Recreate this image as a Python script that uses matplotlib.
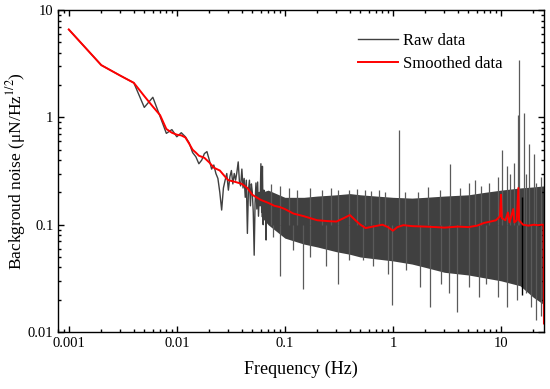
import matplotlib
matplotlib.use('Agg')
import matplotlib.pyplot as plt
from matplotlib.ticker import FixedLocator, FixedFormatter, LogLocator, NullFormatter

plt.rcParams['font.family'] = ['Liberation Serif', 'DejaVu Serif']
plt.rcParams['mathtext.fontset'] = 'stix'

# raw spectrum, low-frequency part (read point by point)
raw_f = [0.001, 0.002, 0.003, 0.004, 0.005, 0.006, 0.007, 0.008, 0.009, 0.010,
         0.011, 0.012, 0.013, 0.014, 0.015, 0.016, 0.017, 0.018, 0.019, 0.020,
         0.021, 0.022, 0.023, 0.024, 0.025, 0.026, 0.027, 0.028, 0.029, 0.030,
         0.031, 0.032, 0.033, 0.034, 0.035, 0.036, 0.037, 0.038, 0.039, 0.040,
         0.041, 0.042, 0.043, 0.044, 0.045, 0.046, 0.047, 0.048, 0.049, 0.050,
         0.051, 0.052, 0.053, 0.054, 0.055, 0.056, 0.057, 0.058, 0.059, 0.060,
         0.061, 0.062, 0.063, 0.064, 0.065, 0.066, 0.067, 0.068, 0.069, 0.070]
raw_v = [6.6, 3.07, 2.45, 2.1, 1.24, 1.54, 1.02, 0.71, 0.77, 0.66,
         0.72, 0.66, 0.58, 0.47, 0.43, 0.37, 0.40, 0.46, 0.48, 0.40,
         0.33, 0.36, 0.30, 0.27, 0.20, 0.137, 0.22, 0.26, 0.30, 0.21,
         0.28, 0.32, 0.24, 0.30, 0.26, 0.31, 0.385, 0.25, 0.23, 0.33,
         0.22, 0.27, 0.18, 0.26, 0.083, 0.21, 0.26, 0.15, 0.24, 0.20,
         0.13, 0.052, 0.16, 0.245, 0.14, 0.25, 0.12, 0.20, 0.15, 0.37,
         0.13, 0.35, 0.10, 0.21, 0.12, 0.17, 0.072, 0.19, 0.11, 0.20]

# dense part of the raw spectrum: envelope of the band
band_f = [0.06, 0.07, 0.1, 0.15, 0.2, 0.3, 0.4, 0.5, 0.7, 1, 1.5, 2, 3, 5, 7,
          10, 15, 20, 25]
band_top = [0.20, 0.21, 0.18, 0.18, 0.185, 0.19, 0.195, 0.19, 0.185, 0.18,
            0.177, 0.18, 0.185, 0.19, 0.20, 0.21, 0.22, 0.225, 0.23]
band_bottom = [0.12, 0.10, 0.075, 0.066, 0.062, 0.056, 0.053, 0.05, 0.048,
               0.046, 0.043, 0.04, 0.036, 0.034, 0.032, 0.03, 0.027, 0.021, 0.018]

# single lines sticking out of the band
spike_up_f = [0.075, 0.09, 0.11, 0.13, 0.17, 0.22, 0.27, 0.31, 0.39, 0.47, 0.55,
              0.63, 0.75, 0.85, 1.15, 1.3, 1.7, 2.1, 2.7, 3.4, 4.2, 5.1, 5.7,
              6.5, 7.8, 9.3, 10.2, 11.4, 12.2, 13.3, 14.3, 14.6, 16.3, 17.2,
              18.3, 20.3, 21.0, 23.5]
spike_up_v = [0.24, 0.23, 0.22, 0.21, 0.22, 0.21, 0.22, 0.21, 0.21, 0.215, 0.21,
              0.205, 0.21, 0.20, 0.76, 0.20, 0.20, 0.225, 0.21, 0.37, 0.22, 0.245,
              0.26, 0.23, 0.245, 0.28, 0.50, 0.35, 0.30, 0.38, 1.05, 3.42, 1.09,
              0.30, 0.57, 0.46, 0.245, 0.28]
spike_dn_f = [0.077, 0.09, 0.118, 0.147, 0.17, 0.24, 0.31, 0.39, 0.53, 0.65,
              0.90, 0.98, 1.33, 1.8, 2.2, 2.8, 3.3, 3.9, 5.1, 6.3, 7.2, 9.3,
              11.4, 14.0, 17.0, 19.1, 21.0, 23.5]
spike_dn_v = [0.077, 0.033, 0.058, 0.025, 0.05, 0.041, 0.028, 0.047, 0.047,
              0.041, 0.035, 0.018, 0.038, 0.026, 0.017, 0.028, 0.023, 0.0155,
              0.026, 0.021, 0.028, 0.021, 0.017, 0.02, 0.023, 0.017, 0.013, 0.014]
dark_f = [15.7]
dark_lo = [0.022]
dark_hi = [0.18]

# smoothed spectrum
smooth_f = [0.001, 0.002, 0.003, 0.004, 0.005, 0.006, 0.007, 0.008, 0.009, 0.01,
            0.011, 0.012, 0.013, 0.014, 0.015, 0.016, 0.018, 0.02, 0.022, 0.025,
            0.028, 0.03, 0.035, 0.04, 0.045, 0.05, 0.06, 0.07, 0.08, 0.09, 0.1,
            0.12, 0.15, 0.2, 0.25, 0.3, 0.35, 0.4, 0.45, 0.5, 0.56, 0.65, 0.8,
            0.9, 1.0, 1.1, 1.25, 1.5, 2, 2.5, 3, 4, 5, 6, 7, 8, 9, 9.8, 10.0,
            10.2, 11, 11.6, 12, 13, 13.3, 14, 14.5, 14.7, 16, 18, 20, 22, 24,
            24.8, 25]
smooth_v = [6.6, 3.07, 2.45, 2.1, 1.58, 1.26, 1.05, 0.78, 0.72, 0.69,
            0.68, 0.65, 0.57, 0.50, 0.47, 0.44, 0.42, 0.38, 0.34, 0.32,
            0.28, 0.26, 0.25, 0.24, 0.22, 0.19, 0.17, 0.16, 0.15, 0.146, 0.14,
            0.127, 0.12, 0.11, 0.108, 0.107, 0.115, 0.123, 0.11, 0.10, 0.093,
            0.096, 0.10, 0.095, 0.088, 0.095, 0.099, 0.097, 0.096, 0.095, 0.094,
            0.096, 0.095, 0.098, 0.104, 0.107, 0.11, 0.12, 0.19, 0.115, 0.11,
            0.13, 0.105, 0.14, 0.105, 0.11, 0.22, 0.11, 0.10, 0.098, 0.10,
            0.099, 0.10, 0.10, 0.012]

x_ticks = [0.001, 0.01, 0.1, 1, 10]
x_labels = ['0.001', '0.01', '0.1', '1', '10']
y_ticks = [0.01, 0.1, 1, 10]
y_labels = ['0.01', '0.1', '1', '10']

raw_color = '#404040'
fig = plt.figure(figsize=(5.5, 3.89), dpi=100)
ax = fig.add_axes([0.106, 0.1465, 0.883, 0.8275])

ax.fill_between(band_f, band_bottom, band_top, color=raw_color, lw=0)
ax.vlines(spike_up_f, 0.1, spike_up_v, color='#5a5a5a', lw=0.9)
ax.vlines(spike_dn_f, 0.1, spike_dn_v, color='#5a5a5a', lw=0.9)
ax.vlines(dark_f, dark_lo, dark_hi, color='black', lw=1.0)
ax.plot(raw_f, raw_v, color=raw_color, lw=1.0, label='Raw data')
ax.plot(smooth_f, smooth_v, color='red', lw=1.4, label='Smoothed data')

ax.set_xscale('log')
ax.set_yscale('log')
ax.set_xlim(0.0008, 25)
ax.set_ylim(0.01, 10)

ax.xaxis.set_major_locator(FixedLocator(x_ticks))
ax.xaxis.set_major_formatter(FixedFormatter(x_labels))
ax.yaxis.set_major_locator(FixedLocator(y_ticks))
ax.yaxis.set_major_formatter(FixedFormatter(y_labels))
for axis in (ax.xaxis, ax.yaxis):
    axis.set_minor_locator(LogLocator(base=10, subs=range(2, 10)))
    axis.set_minor_formatter(NullFormatter())

ax.tick_params(which='both', direction='in', top=True, right=True, width=1.0,
               labelsize=10.5)
ax.tick_params(which='major', length=4)
ax.tick_params(which='minor', length=2.5)
for s in ax.spines.values():
    s.set_linewidth(1.0)

ax.set_xlabel('Frequency (Hz)', fontsize=13, labelpad=8)
ax.set_ylabel('Backgroud noise (μN/Hz$^{1/2}$)', fontsize=12.5, labelpad=0)

ax.legend(loc='upper left', bbox_to_anchor=(0.6, 0.955), frameon=False,
          fontsize=12, handlelength=2.4, handletextpad=0.3, labelspacing=0.4,
          borderpad=0)

fig.savefig('out.png', dpi=100)
